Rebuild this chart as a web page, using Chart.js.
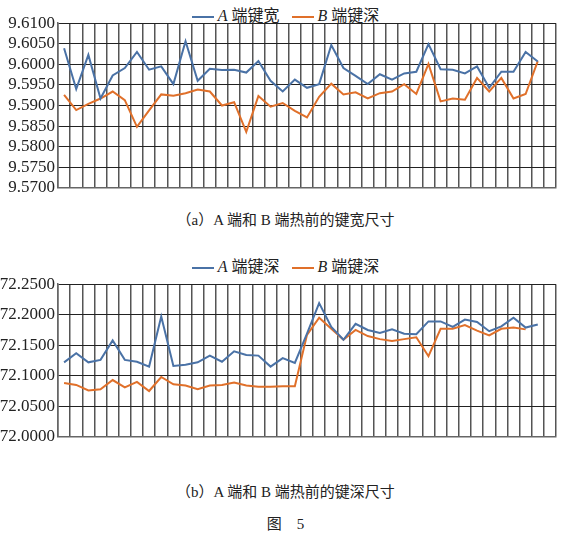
<!DOCTYPE html>
<html lang="zh">
<head>
<meta charset="UTF-8">
<title>图 5</title>
<script src="https://cdn.jsdelivr.net/npm/chart.js"></script>
<style>
    body { margin: 0; width: 571px; height: 538px; background: #fff; position: relative; font-family: "Liberation Serif", "Noto Sans CJK SC", serif; }
    .box { position: absolute; left: 0; width: 571px; }
    .legend { position: absolute; left: 0; width: 571px; text-align: center; font-size: 16px; color: #222; }
    .legend span.sw { display: inline-block; width: 22px; height: 2px; vertical-align: middle; margin: 0 4px 0 0; }
    .legend i { font-family: "Liberation Serif", serif; }
    .cap { position: absolute; left: 0; width: 571px; text-align: center; font-size: 15px; color: #222; font-family: "Liberation Serif", "Noto Sans CJK SC", serif; }
</style>
</head>
<body>
<div class="legend" style="top:2px"><span class="sw" style="background:#4a72a6"></span><i>A</i> 端键宽&nbsp;&nbsp;&nbsp;<span class="sw" style="background:#e0702a"></span><i>B</i> 端键深</div>
<div class="box" style="top:10px;height:191px"><canvas id="c1"></canvas></div>
<div class="cap" style="top:208px">（a）A 端和 B 端热前的键宽尺寸</div>
<div class="legend" style="top:253px"><span class="sw" style="background:#4a72a6"></span><i>A</i> 端键深&nbsp;&nbsp;&nbsp;<span class="sw" style="background:#e0702a"></span><i>B</i> 端键深</div>
<div class="box" style="top:271px;height:179px"><canvas id="c2"></canvas></div>
<div class="cap" style="top:480px">（b）A 端和 B 端热前的键深尺寸</div>
<div class="cap" style="top:512px">图&nbsp;&nbsp;&nbsp;&nbsp;5</div>
<script>
    const labels = Array.from({length: 41}, (_, i) => String(i + 1));

    const widthA = [9.6039, 9.5940, 9.6023, 9.5917, 9.5973, 9.5991, 9.6030, 9.5987, 9.5995, 9.5952,
        9.6056, 9.5960, 9.5989, 9.5986, 9.5987, 9.5980, 9.6008, 9.5960, 9.5934, 9.5963,
        9.5943, 9.5952, 9.6047, 9.5991, 9.5972, 9.5952, 9.5976, 9.5963, 9.5978, 9.5982,
        9.6049, 9.5988, 9.5987, 9.5978, 9.5995, 9.5943, 9.5982, 9.5982, 9.6030, 9.6007, null];
    const widthB = [9.5926, 9.5889, 9.5904, 9.5917, 9.5934, 9.5913, 9.5848, 9.5888, 9.5927, 9.5924,
        9.5930, 9.5939, 9.5934, 9.5900, 9.5908, 9.5836, 9.5923, 9.5897, 9.5906, 9.5887,
        9.5871, 9.5921, 9.5953, 9.5927, 9.5932, 9.5917, 9.5930, 9.5934, 9.5952, 9.5928,
        9.6001, 9.5910, 9.5917, 9.5914, 9.5967, 9.5934, 9.5967, 9.5917, 9.5928, 9.6008, null];
    const widthTicks = [9.570, 9.575, 9.580, 9.585, 9.590, 9.595, 9.600, 9.605, 9.610];

    const depthA = [72.122, 72.137, 72.122, 72.126, 72.158, 72.126, 72.123, 72.115, 72.197, 72.116,
        72.118, 72.122, 72.133, 72.123, 72.140, 72.134, 72.133, 72.115, 72.129, 72.121,
        72.169, 72.219, 72.180, 72.159, 72.185, 72.175, 72.170, 72.176, 72.169, 72.168,
        72.189, 72.189, 72.180, 72.192, 72.188, 72.173, 72.181, 72.195, 72.179, 72.184, null];
    const depthB = [72.088, 72.085, 72.076, 72.078, 72.093, 72.081, 72.090, 72.075, 72.098, 72.086,
        72.084, 72.078, 72.084, 72.085, 72.089, 72.084, 72.082, 72.082, 72.083, 72.083,
        72.167, 72.195, 72.177, 72.159, 72.175, 72.165, 72.160, 72.157, 72.160, 72.163,
        72.132, 72.177, 72.177, 72.183, 72.174, 72.166, 72.177, 72.179, 72.176, null, null];
    const depthTicks = [72.00, 72.05, 72.10, 72.15, 72.20, 72.25];

    const blue = '#4a72a6';
    const orange = '#e0702a';

    function makeChart(id, a, b, yTicks) {
        new Chart(document.getElementById(id), {
            type: 'line',
            data: {
                labels: labels,
                datasets: [
                    { data: a, borderColor: blue, borderWidth: 2, pointRadius: 0, tension: 0 },
                    { data: b, borderColor: orange, borderWidth: 2, pointRadius: 0, tension: 0 }
                ]
            },
            options: {
                animation: false,
                responsive: true,
                maintainAspectRatio: false,
                layout: { padding: { top: 4, right: 15, bottom: 0, left: 0 } },
                plugins: { legend: { display: false }, tooltip: { enabled: false } },
                scales: {
                    x: {
                        offset: true,
                        grid: { offset: true, color: '#555', lineWidth: 1.5, drawTicks: false },
                        border: { color: '#666', width: 1.5 },
                        ticks: { display: false }
                    },
                    y: {
                        min: yTicks[0], max: yTicks[yTicks.length - 1],
                        afterFit: s => { s.width = 58; },
                        afterBuildTicks: s => { s.ticks = yTicks.map(v => ({ value: v })); },
                        grid: { color: '#222', lineWidth: 1, drawTicks: false },
                        border: { color: '#666', width: 1.5 },
                        ticks: {
                            autoSkip: false, padding: 3, color: '#222',
                            font: { family: 'Liberation Serif', size: 17 },
                            callback: v => v.toFixed(4)
                        }
                    }
                }
            }
        });
    }

    makeChart('c1', widthA, widthB, widthTicks);
    makeChart('c2', depthA, depthB, depthTicks);
</script>
</body>
</html>
